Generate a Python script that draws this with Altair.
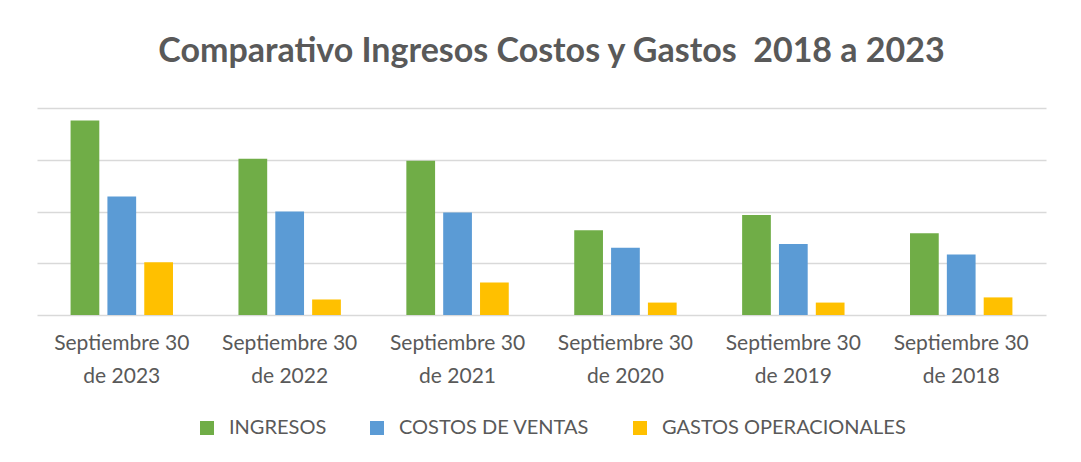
import altair as alt
import pandas as pd

periodos = [
    "Septiembre 30|de 2023",
    "Septiembre 30|de 2022",
    "Septiembre 30|de 2021",
    "Septiembre 30|de 2020",
    "Septiembre 30|de 2019",
    "Septiembre 30|de 2018",
]
series = ["INGRESOS", "COSTOS DE VENTAS", "GASTOS OPERACIONALES"]
ingresos = [3.76, 3.02, 2.98, 1.64, 1.93, 1.58]
costos = [2.29, 2.00, 1.98, 1.30, 1.37, 1.17]
gastos = [1.02, 0.30, 0.63, 0.24, 0.24, 0.34]
colores = ["#70AD47", "#5B9BD5", "#FFC000"]
titulo = "Comparativo Ingresos Costos y Gastos\u00a0 2018 a 2023"

rows = []
for serie, vals in zip(series, [ingresos, costos, gastos]):
    for p, v in zip(periodos, vals):
        rows.append({"periodo": p, "serie": serie, "valor": v})
df = pd.DataFrame(rows)

FONT = "Lato"
GRAY = "#595959"

chart = (
    alt.Chart(df)
    .mark_bar()
    .encode(
        x=alt.X(
            "periodo:N",
            sort=periodos,
            scale=alt.Scale(paddingInner=0.39, paddingOuter=0.2),
            axis=alt.Axis(
                title=None,
                labelAngle=0,
                labelExpr="split(datum.label, '|')",
                labelFont=FONT,
                labelFontSize=21,
                labelColor=GRAY,
                labelPadding=17,
                labelLineHeight=33,
                ticks=False,
                domain=False,
            ),
        ),
        xOffset=alt.XOffset(
            "serie:N", sort=series, scale=alt.Scale(paddingInner=0.22, paddingOuter=0)
        ),
        y=alt.Y(
            "valor:Q",
            stack=None,
            scale=alt.Scale(domain=[0, 4], nice=False),
            axis=alt.Axis(
                title=None,
                labels=False,
                ticks=False,
                domain=False,
                values=[0, 1, 2, 3, 4],
                gridColor="#d9d9d9",
                gridWidth=1.5,
            ),
        ),
        color=alt.Color(
            "serie:N",
            sort=series,
            scale=alt.Scale(domain=series, range=colores),
            legend=alt.Legend(
                title=None,
                orient="none",
                legendX=160,
                legendY=310,
                padding=0,
                direction="horizontal",
                symbolType="square",
                symbolSize=196,
                symbolStrokeWidth=0,
                symbolOffset=0,
                labelOffset=12,
                labelFont=FONT,
                labelFontSize=20,
                labelColor=GRAY,
                labelLimit=400,
                columnPadding=40,
            ),
        ),
    )
    .properties(
        width=1009,
        height=207,
        title=alt.TitleParams(
            titulo,
            font=FONT,
            fontSize=34,
            fontWeight="bold",
            color=GRAY,
            anchor="middle",
            baseline="alphabetic",
            offset=12,
            dx=10,
        ),
        autosize=alt.AutoSizeParams(type="none"),
        padding={"left": 29, "top": 100, "right": 20, "bottom": 130},
    )
    .configure_view(stroke=None)
)

chart.save("out.html", embed_options={"renderer": "svg", "actions": False})
